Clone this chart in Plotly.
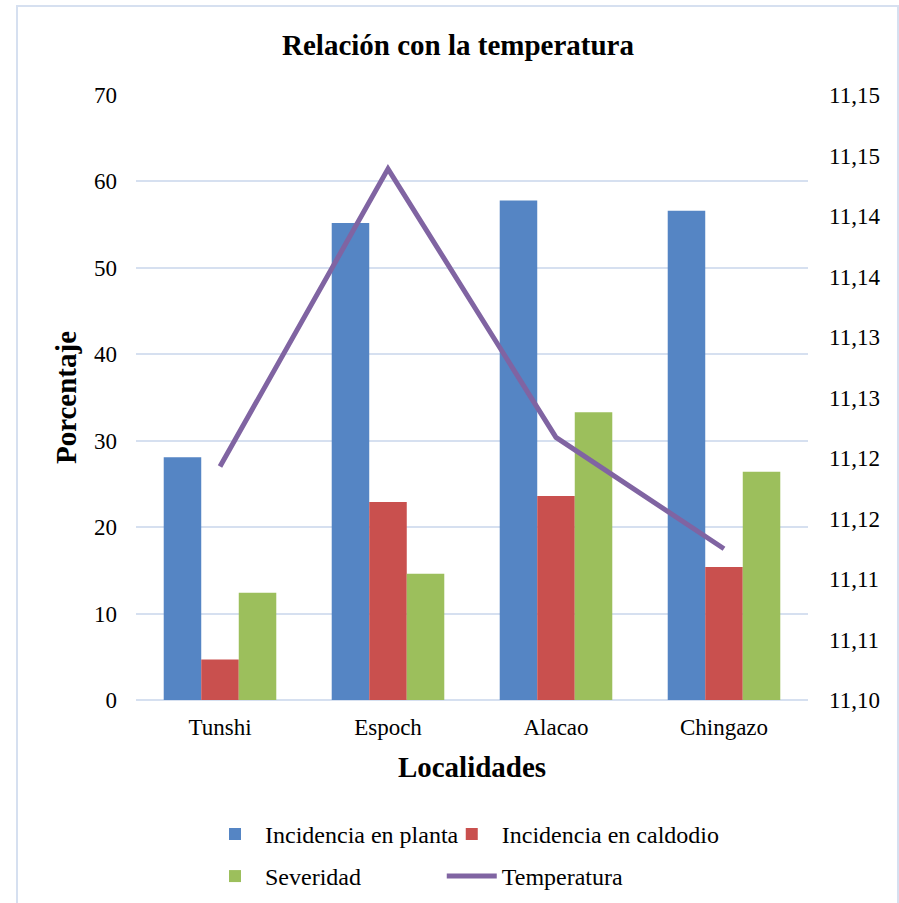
import plotly.graph_objects as go

categories = ["Tunshi", "Espoch", "Alacao", "Chingazo"]
incidencia_planta = [28.1, 55.2, 57.8, 56.6]
incidencia_caldodio = [4.7, 22.9, 23.6, 15.4]
severidad = [12.4, 14.6, 33.3, 26.4]
temperatura = [11.1193, 11.1439, 11.1217, 11.1125]

right_tickvals = [11.100, 11.105, 11.110, 11.115, 11.120, 11.125, 11.130, 11.135, 11.140, 11.145, 11.150]
right_ticktext = ["11,10", "11,11", "11,11", "11,12", "11,12", "11,13", "11,13", "11,14", "11,14", "11,15", "11,15"]

FONT = "Liberation Serif, Times New Roman, DejaVu Serif, serif"
GRID = "#D6E0F0"

def f(size):
    return dict(family=FONT, size=size, color="black")

fig = go.Figure()
fig.add_trace(go.Bar(x=categories, y=incidencia_planta, name="Incidencia en planta",
                     marker=dict(color="#5585C4", line=dict(width=0)), legend="legend"))
fig.add_trace(go.Bar(x=categories, y=incidencia_caldodio, name="Incidencia en caldodio",
                     marker=dict(color="#C9504E", line=dict(width=0)), legend="legend2"))
fig.add_trace(go.Bar(x=categories, y=severidad, name="Severidad",
                     marker=dict(color="#9CBF5C", line=dict(width=0)), legend="legend3"))
fig.add_trace(go.Scatter(x=categories, y=temperatura, name="Temperatura", yaxis="y2",
                         mode="lines", line=dict(color="#8064A2", width=5), legend="legend4"))

def leg(x, y):
    return dict(orientation="h", x=x, xanchor="left", y=y, yanchor="top",
                font=f(24), itemwidth=50, bgcolor="rgba(0,0,0,0)")

col1, col2 = 0.1027, 0.455
row1, row2 = -0.185, -0.2545

fig.update_layout(
    width=899, height=903,
    paper_bgcolor="white", plot_bgcolor="white",
    margin=dict(l=136, r=91, t=95, b=203, autoexpand=False),
    font=f(20),
    title=dict(text="<b>Relación con la temperatura</b>", x=458 / 899, xanchor="center",
               y=1 - 45 / 903, yanchor="middle", font=f(29)),
    barmode="group", bargap=0.33, bargroupgap=0,
    xaxis=dict(title=dict(text="<b>Localidades</b>", font=f(29), standoff=17),
               showline=False, ticks="", tickfont=f(23), ticklabelstandoff=11, automargin=False),
    yaxis=dict(title=dict(text="<b>Porcentaje</b>", font=f(29), standoff=8),
               range=[0, 70], dtick=10, showgrid=True, gridcolor=GRID, gridwidth=2,
               zeroline=True, zerolinecolor=GRID, zerolinewidth=2,
               ticks="", tickfont=f(23), ticklabelstandoff=18, automargin=False),
    yaxis2=dict(overlaying="y", side="right", range=[11.10, 11.15],
                tickvals=right_tickvals, ticktext=right_ticktext,
                showgrid=False, zeroline=False, ticks="", tickfont=f(23),
                ticklabelstandoff=20, automargin=False),
    legend=leg(col1, row1),
    legend2=leg(col2, row1),
    legend3=leg(col1, row2),
    legend4=leg(col2, row2),
    showlegend=True,
)

fig.add_shape(type="rect", xref="paper", yref="paper",
              x0=(17 - 136) / 672, x1=(898 - 136) / 672,
              y0=-0.5, y1=1 + (95 - 6) / 605,
              line=dict(color=GRID, width=2), layer="below")

fig.write_html("out.html", config={"displayModeBar": False},
               post_script="document.body.style.margin='0';document.body.style.padding='0';")
